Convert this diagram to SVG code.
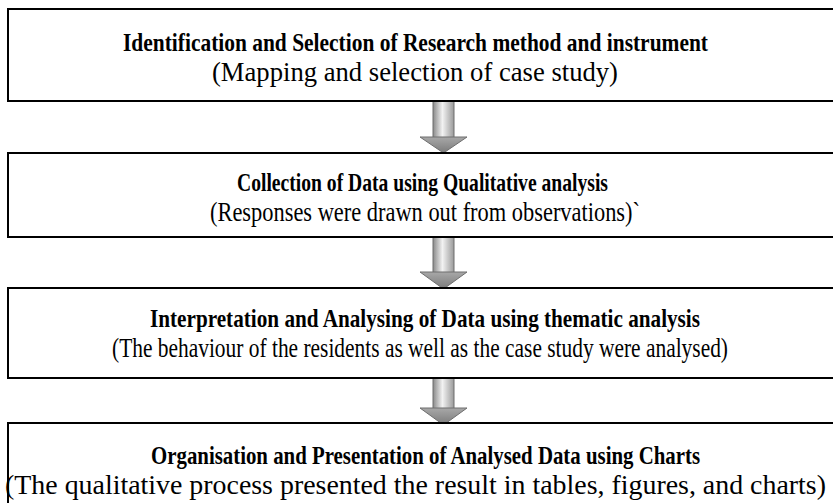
<svg xmlns="http://www.w3.org/2000/svg" width="833" height="503" viewBox="0 0 833 503">
<defs>
<linearGradient id="shaft" x1="0" y1="0" x2="1" y2="0">
<stop offset="0" stop-color="#8a8a8a"/>
<stop offset="0.45" stop-color="#f2f2f2"/>
<stop offset="1" stop-color="#9a9a9a"/>
</linearGradient>
<linearGradient id="head" x1="0" y1="0" x2="0" y2="1">
<stop offset="0" stop-color="#a8a8a8"/>
<stop offset="1" stop-color="#7a7a7a"/>
</linearGradient>
</defs>
<style>
.box{fill:#fff;stroke:#000;stroke-width:2}
.t{font-family:"Liberation Serif","Times New Roman",serif;font-weight:bold;font-size:25px;fill:#000}
.s{font-family:"Liberation Serif","Times New Roman",serif;font-size:27px;fill:#000}
.ash{fill:url(#shaft);stroke:#6e6e6e;stroke-width:1}
.ahd{fill:url(#head);stroke:#6e6e6e;stroke-width:1}
</style>
<rect width="833" height="503" fill="#fff"/>
<g id="connectors">
<g id="a1"><rect class="ash" x="433" y="100" width="21" height="38"/><polygon class="ahd" points="420,137 467,137 443.5,153"/></g>
<g id="a2"><rect class="ash" x="433" y="236" width="21" height="37"/><polygon class="ahd" points="420,272 467,272 443.5,289"/></g>
<g id="a3"><rect class="ash" x="433" y="377" width="21" height="32"/><polygon class="ahd" points="420,408 467,408 443.5,425"/></g>
</g>
<g id="n1">
<rect class="box" x="8" y="9" width="840" height="92"/>
<text class="t" x="123" y="51" textLength="585" lengthAdjust="spacingAndGlyphs">Identification  and Selection of Research method and instrument</text>
<text class="s" x="212" y="81" textLength="406" lengthAdjust="spacingAndGlyphs">(Mapping and selection of case study)</text>
</g>
<g id="n2">
<rect class="box" x="8" y="153" width="840" height="84"/>
<text class="t" x="237" y="191" textLength="371" lengthAdjust="spacingAndGlyphs">Collection of Data using Qualitative  analysis</text>
<text class="s" x="210" y="221" textLength="430" lengthAdjust="spacingAndGlyphs">(Responses were drawn out from observations)`</text>
</g>
<g id="n3">
<rect class="box" x="8" y="288" width="840" height="90"/>
<text class="t" x="150" y="327" textLength="550" lengthAdjust="spacingAndGlyphs">Interpretation  and Analysing of Data using thematic analysis</text>
<text class="s" x="112" y="357" textLength="616" lengthAdjust="spacingAndGlyphs">(The behaviour of the residents as well as the case study were analysed)</text>
</g>
<g id="n4">
<rect class="box" x="8" y="423" width="840" height="100"/>
<text class="t" x="151" y="464" textLength="549" lengthAdjust="spacingAndGlyphs">Organisation and Presentation of Analysed Data using Charts</text>
<text class="s" x="5" y="494" textLength="821" lengthAdjust="spacingAndGlyphs">(The qualitative process presented the result in tables, figures, and charts)</text>
</g>
</svg>
